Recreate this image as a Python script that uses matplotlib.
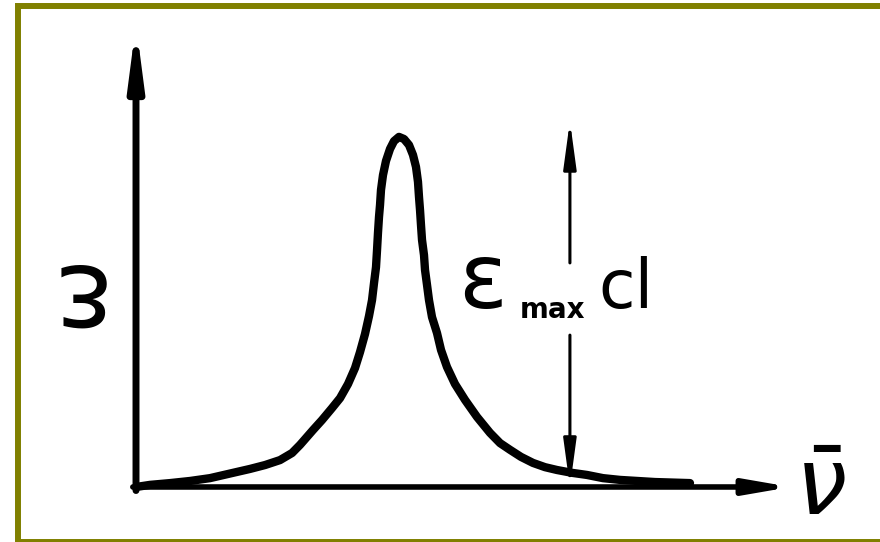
import matplotlib
matplotlib.use("Agg")
import matplotlib.pyplot as plt
from matplotlib.patches import Rectangle

# pasmo absorpcji - odczytane punkty (liczba falowa w j.u., absorbancja wzgledem maksimum)
nu = [0.000, 0.219, 0.531, 0.844, 1.156, 1.516, 1.781, 2.016, 2.250, 2.438, 2.563,
      2.766, 2.906, 3.063, 3.188, 3.313, 3.422, 3.500, 3.578, 3.641, 3.688, 3.719,
      3.750, 3.766, 3.781, 3.797, 3.813, 3.828, 3.859, 3.906, 3.969, 4.031, 4.109,
      4.188, 4.266, 4.328, 4.375, 4.406, 4.422, 4.438, 4.453, 4.469, 4.500, 4.516,
      4.547, 4.578, 4.625, 4.703, 4.766, 4.859, 4.984, 5.141, 5.328, 5.531, 5.688,
      5.844, 6.016, 6.203, 6.391, 6.578, 6.813, 7.047, 7.297, 7.563, 8.109, 8.656]
absorbancja = [0.000, 0.006, 0.011, 0.017, 0.025, 0.040, 0.051, 0.062, 0.076, 0.096, 0.119,
               0.161, 0.189, 0.223, 0.251, 0.291, 0.336, 0.381, 0.432, 0.483, 0.528, 0.576,
               0.621, 0.669, 0.718, 0.763, 0.797, 0.839, 0.881, 0.921, 0.955, 0.977, 0.989,
               0.983, 0.966, 0.938, 0.904, 0.862, 0.819, 0.782, 0.740, 0.698, 0.655, 0.613,
               0.571, 0.528, 0.480, 0.435, 0.387, 0.339, 0.291, 0.246, 0.198, 0.153, 0.124,
               0.105, 0.085, 0.068, 0.056, 0.048, 0.040, 0.034, 0.025, 0.020, 0.014, 0.011]

etykieta_y = "ε"
etykieta_x = r"$\bar{\nu}$"
etykieta_eps = "ε"
etykieta_max = "max"
etykieta_cl = "cl"

x_strzalki = 6.78          # polozenie pionowej strzalki eps_max*c*l

fig = plt.figure(figsize=(8.8, 5.42), dpi=100)
ax = fig.add_axes([0, 0, 1, 1])
ax.set_xlim(-2.125, 11.625)
ax.set_ylim(-0.1554, 1.3757)
ax.axis("off")

# ramka rysunku
fig.add_artist(Rectangle((18 / 880, 0), 882 / 880, 536 / 542, transform=fig.transFigure,
                         fill=False, ec="#808000", lw=4.3))

# osie ze strzalkami (grot cofa sie o grubosc linii, stad koniec troche dalej)
ax.annotate("", xy=(0, 1.308), xytext=(0, -0.01),
            arrowprops=dict(arrowstyle="-|>,head_length=3.3,head_width=0.43", mutation_scale=10,
                            lw=5, color="k", shrinkA=0, shrinkB=0))
ax.annotate("", xy=(10.23, 0), xytext=(-0.05, 0),
            arrowprops=dict(arrowstyle="-|>,head_length=2.6,head_width=0.45", mutation_scale=10,
                            lw=4, color="k", shrinkA=0, shrinkB=0))

# krzywa pasma
ax.plot(nu, absorbancja, color="k", lw=6, solid_capstyle="round", solid_joinstyle="round")

# strzalka wysokosci pasma (przerwana na podpis)
ax.annotate("", xy=(x_strzalki, 1.034), xytext=(x_strzalki, 0.633),
            arrowprops=dict(arrowstyle="-|>,head_length=2.8,head_width=0.38", mutation_scale=10,
                            lw=2.2, color="k", shrinkA=0, shrinkB=0))
ax.annotate("", xy=(x_strzalki, 0.0), xytext=(x_strzalki, 0.429),
            arrowprops=dict(arrowstyle="-|>,head_length=2.8,head_width=0.38", mutation_scale=10,
                            lw=2.2, color="k", shrinkA=0, shrinkB=0))

# podpisy
ax.text(5.03, 0.506, etykieta_eps, fontsize=65, ha="left", va="baseline")
ax.text(6.0, 0.477, etykieta_max, fontsize=20, fontweight="bold", ha="left", va="baseline")
ax.text(7.22, 0.506, etykieta_cl, fontsize=48, ha="left", va="baseline")
ax.text(10.30, -0.079, etykieta_x, fontsize=66, ha="left", va="baseline")
ax.text(-1.03, 0.542, etykieta_y, fontsize=80, rotation=180, ha="center", va="center")

fig.savefig("out.png", dpi=100)
